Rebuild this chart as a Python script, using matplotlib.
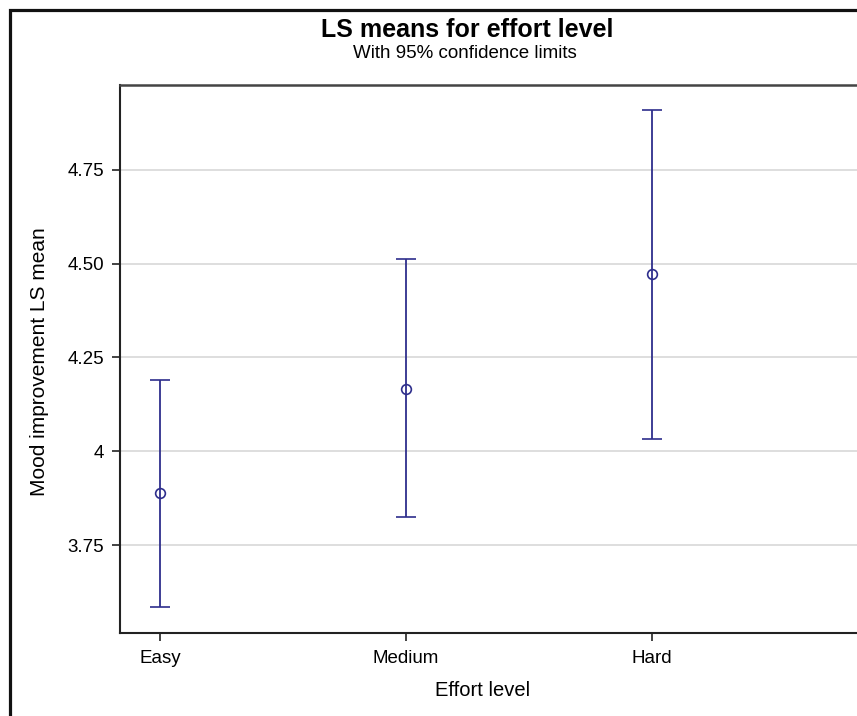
import matplotlib
matplotlib.use("Agg")
import matplotlib.pyplot as plt
from matplotlib.patches import Rectangle

# Data
levels = ["Easy", "Medium", "Hard"]
ls_means = [3.888, 4.167, 4.473]
lower_cl = [3.584, 3.826, 4.033]
upper_cl = [4.190, 4.513, 4.910]

y_ticks = [3.75, 4.0, 4.25, 4.50, 4.75]
y_tick_labels = ["3.75", "4", "4.25", "4.50", "4.75"]

plt.rcParams["font.family"] = ["Liberation Sans", "DejaVu Sans"]

W, H = 857, 716
fig = plt.figure(figsize=(W / 100, H / 100), dpi=100)

# outer frame (cropped on right and bottom)
fig.add_artist(Rectangle((9.5 / W, -0.05), 1.2, (H - 10) / H + 0.05,
                         transform=fig.transFigure, fill=False,
                         edgecolor="#111111", linewidth=2.3))

# axes box in pixels: left 120, top 85, bottom 633, runs past right edge
left, top, bottom, right = 120, 85, 633, 890
ax = fig.add_axes([left / W, (H - bottom) / H, (right - left) / W, (bottom - top) / H])

x = list(range(len(levels)))
err_lo = [m - l for m, l in zip(ls_means, lower_cl)]
err_hi = [u - m for m, u in zip(ls_means, upper_cl)]
ax.errorbar(x, ls_means, yerr=[err_lo, err_hi], fmt="o", color="#2e2e8c",
            markerfacecolor="none", markeredgecolor="#2e2e8c", markersize=7,
            markeredgewidth=1.2, elinewidth=1.3, capsize=7, capthick=1.3)

px_per_cat = 246.0
ax.set_xlim(-(160 - left) / px_per_cat, (right - 160) / px_per_cat)
ax.set_ylim(3.516, 4.976)
ax.set_xticks(x)
ax.set_xticklabels(levels, fontsize=13.5)
ax.set_yticks(y_ticks)
ax.set_yticklabels(y_tick_labels, fontsize=13.5)
ax.tick_params(axis="both", direction="out", length=6, width=1.2, color="#222222", pad=5.5)
ax.tick_params(axis="x", length=6, pad=6)

ax.grid(axis="y", color="#d8d8d8", linewidth=1.2)
ax.set_axisbelow(True)

for side in ["left", "bottom"]:
    ax.spines[side].set_color("#222222")
    ax.spines[side].set_linewidth(1.5)
ax.spines["top"].set_color("#444444")
ax.spines["top"].set_linewidth(1.8)
ax.spines["right"].set_visible(False)

ax.set_xlabel("Effort level", fontsize=14.5)
ax.xaxis.set_label_coords(483 / W, 1 - 690 / H, transform=fig.transFigure)
ax.xaxis.label.set_va("center")
ax.set_ylabel("Mood improvement LS mean", fontsize=15)
ax.yaxis.set_label_coords(40 / W, 1 - 362 / H, transform=fig.transFigure)
ax.yaxis.label.set_va("center")

fig.text(467 / W, 1 - 30 / H, "LS means for effort level", ha="center", va="center",
         fontsize=18, fontweight="bold")
fig.text(465 / W, 1 - 53 / H, "With 95% confidence limits", ha="center", va="center",
         fontsize=13.5)

fig.savefig("out.png", dpi=100)
